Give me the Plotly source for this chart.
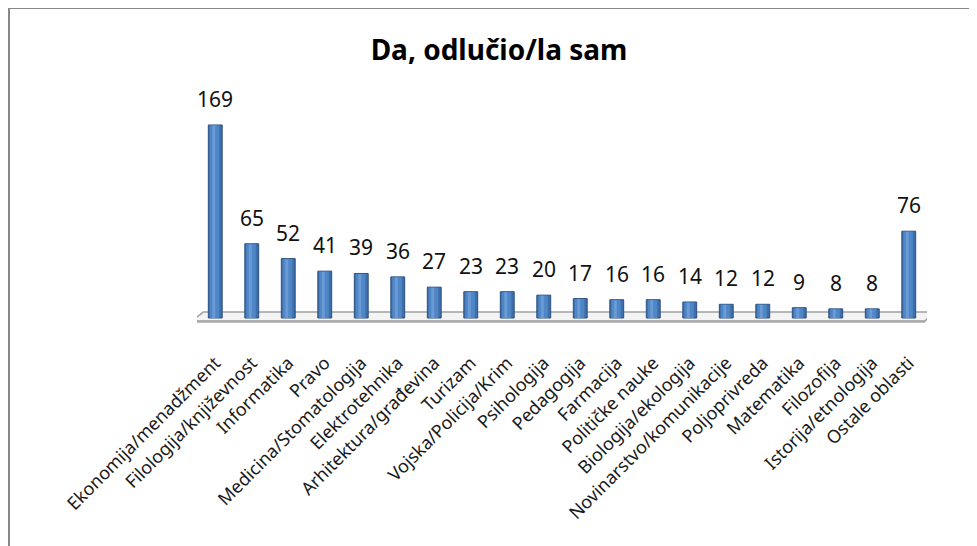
import plotly.graph_objects as go

categories = ["Ekonomija/menadžment", "Filologija/književnost", "Informatika", "Pravo",
              "Medicina/Stomatologija", "Elektrotehnika", "Arhitektura/građevina", "Turizam",
              "Vojska/Policija/Krim", "Psihologija", "Pedagogija", "Farmacija",
              "Političke nauke", "Biologija/ekologija", "Novinarstvo/komunikacije",
              "Poljoprivreda", "Matematika", "Filozofija", "Istorija/etnologija", "Ostale oblasti"]
values = [169, 65, 52, 41, 39, 36, 27, 23, 23, 20, 17, 16, 16, 14, 12, 12, 9, 8, 8, 76]

W, H = 977, 546
L, R, T, B = 189, 58, 80, 226
pw, ph = W - L - R, H - T - B
FONT = "Noto Sans, Open Sans, sans-serif"

def px(x):
    return (x - L) / pw

def py(y):
    return (H - B - y) / ph

fig = go.Figure()
# cylinder body (dark edges)
fig.add_trace(go.Bar(
    x=categories, y=values, width=0.38,
    marker=dict(color="#3F6FAA", line=dict(color="#2A4F80", width=1)),
    hoverinfo="x+y",
))
# main face
fig.add_trace(go.Bar(
    x=categories, y=[v - 0.3 for v in values], width=0.26, offset=-0.15,
    marker=dict(color="#4F86C6", line=dict(width=0)),
    hoverinfo="skip",
))
# highlight stripe
fig.add_trace(go.Bar(
    x=categories, y=[v - 0.5 for v in values], width=0.08, offset=-0.08,
    marker=dict(color="#6A9BD6", line=dict(width=0)),
    hoverinfo="skip",
))

annotations = [
    dict(x=c, y=v, text=str(v), showarrow=False, xref="x", yref="y",
         yanchor="bottom", yshift=10,
         font=dict(family=FONT, size=21, color="#111111"))
    for c, v in zip(categories, values)
]

shapes = [
    # floor
    dict(type="path", xref="x", yref="y",
         path="M -0.63,-2.6 L 19.45,-2.6 L 19.67,5.2 L -0.33,5.2 Z",
         fillcolor="#f4f4f4", line=dict(color="#a0a0a0", width=1.5), layer="below"),
    dict(type="line", xref="x", yref="y", x0=-0.63, x1=19.45, y0=-3.2, y1=-3.2,
         line=dict(color="#a8a8a8", width=2), layer="below"),
    # chart frame (right and bottom edges fall outside the view)
    dict(type="rect", xref="paper", yref="paper",
         x0=px(1), x1=px(W + 20), y0=py(H + 20), y1=py(0),
         line=dict(color="#888888", width=2), fillcolor="rgba(0,0,0,0)"),
]

fig.update_layout(
    width=W, height=H,
    margin=dict(l=L, r=R, t=T, b=B),
    paper_bgcolor="white", plot_bgcolor="white",
    showlegend=False, barmode="overlay",
    title=dict(text="<b>Da, odlučio/la sam</b>", xref="container", x=491 / W, xanchor="center",
               yref="container", y=1 - 42 / H, yanchor="middle",
               font=dict(family=FONT, size=28, color="#000000")),
    xaxis=dict(range=[-0.5, 19.5], tickangle=-45, showgrid=False, showline=False,
               ticks="", ticklabelstandoff=20,
               tickfont=dict(family=FONT, size=18, color="#1a1a1a")),
    yaxis=dict(range=[-8.76, 201.4], visible=False),
    shapes=shapes,
    annotations=annotations,
)

fig.write_html("out.html")
